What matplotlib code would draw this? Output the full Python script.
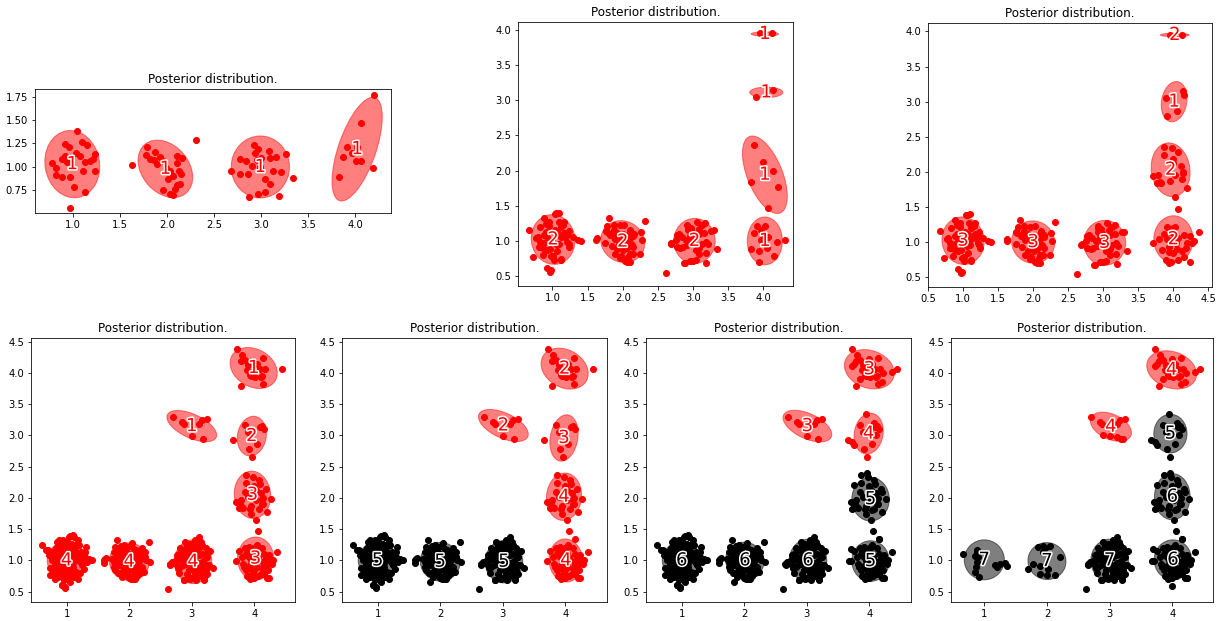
import numpy as np
import matplotlib
matplotlib.use("Agg")
import matplotlib.pyplot as plt
import matplotlib.patheffects as pe
from matplotlib.patches import Ellipse

a1 = [(0.77, 1.04), (0.82, 0.99), (0.82, 0.91), (0.88, 0.89), (0.91, 1.24), (0.95, 1.21),
      (0.88, 1.09), (0.93, 1.05), (0.97, 0.89), (1.01, 0.79), (0.97, 0.56), (1.04, 1.38),
      (1.09, 1.27), (1.15, 1.23), (1.10, 0.96), (1.12, 0.73), (1.12, 1.05), (1.18, 1.06),
      (1.23, 0.96), (1.23, 1.14), (1.21, 1.09), (1.07, 1.12), (1.03, 1.15), (0.91, 1.12)]
a2 = [(0.67, 1.16), (0.73, 0.77), (0.88, 1.32), (0.93, 0.61), (0.98, 0.58), (1.05, 1.39),
      (1.10, 1.40), (1.36, 1.02), (1.40, 1.00), (1.17, 1.27), (1.12, 0.74), (1.24, 0.92),
      (1.29, 1.06), (0.79, 1.06), (0.81, 0.92), (0.83, 1.20), (0.98, 0.78), (1.02, 0.73),
      (0.93, 0.87), (0.88, 0.97), (1.17, 1.11), (1.21, 0.99), (1.07, 0.85), (1.12, 1.20),
      (0.95, 1.27), (1.00, 1.00), (1.05, 0.95), (0.86, 0.80)]
a4 = [(0.61, 1.24), (0.70, 1.16), (0.74, 0.88), (0.78, 0.76), (0.82, 0.70), (0.92, 0.61),
      (0.85, 1.30), (0.95, 1.33), (1.12, 1.38), (1.20, 1.25), (1.30, 1.14), (1.38, 1.01),
      (1.33, 0.98), (1.22, 0.80), (1.18, 0.70), (1.08, 0.80), (0.90, 0.95), (0.95, 1.10),
      (1.00, 1.20), (1.05, 1.05), (1.10, 0.90), (1.15, 1.00), (0.85, 1.05), (0.80, 1.15),
      (1.25, 1.05), (0.92, 0.75), (1.02, 0.88), (0.76, 1.00), (0.79, 0.84), (0.87, 0.74),
      (0.96, 0.68), (1.06, 0.66), (1.15, 0.82), (1.27, 0.87), (1.31, 1.22), (1.18, 1.33),
      (1.00, 1.30), (0.89, 1.18), (0.72, 1.08), (1.06, 1.25), (0.98, 0.93), (1.13, 1.15)]
a7 = [(0.66, 1.11), (0.85, 1.07), (0.88, 0.98), (0.87, 0.90), (0.85, 0.82), (0.92, 0.74),
      (1.17, 0.93), (1.20, 0.90), (1.25, 0.95), (1.33, 0.96), (1.37, 0.91), (0.88, 1.17),
      (0.90, 1.06), (0.89, 1.12)]

b1 = [(1.62, 1.02), (1.78, 1.21), (1.77, 1.13), (1.82, 1.09), (1.87, 1.16), (1.86, 1.07),
      (1.89, 1.03), (1.92, 1.11), (1.96, 1.06), (1.99, 0.99), (2.03, 0.96), (2.01, 0.87),
      (1.96, 0.76), (2.03, 0.71), (2.06, 0.70), (2.08, 0.77), (2.10, 0.81), (2.14, 0.82),
      (2.15, 0.92), (2.10, 1.04), (2.10, 1.12), (2.16, 1.10), (2.12, 0.96), (2.31, 1.29),
      (2.06, 0.90)]
b2 = [(1.63, 1.04), (1.81, 1.32), (2.26, 1.13), (2.27, 1.01), (2.24, 0.82), (2.10, 0.70),
      (2.05, 0.73), (1.97, 0.79), (1.89, 0.81), (1.86, 1.11), (1.87, 1.23), (1.96, 1.22),
      (2.02, 1.23), (2.11, 1.16), (2.13, 0.94), (1.75, 0.97), (1.76, 1.14), (1.95, 0.95),
      (2.05, 0.91), (2.08, 1.00), (2.15, 1.07), (1.92, 0.88), (2.00, 1.10), (1.84, 0.93)]
b4 = [(1.59, 1.01), (1.60, 0.96), (2.34, 0.98), (1.75, 0.90), (1.80, 1.05), (1.85, 1.20),
      (1.90, 0.95), (1.95, 1.15), (2.00, 0.85), (2.05, 1.05), (2.10, 0.95), (2.15, 1.15),
      (2.20, 0.90), (2.25, 1.05), (2.20, 1.20), (1.82, 0.80), (2.12, 0.75), (1.92, 1.25),
      (2.07, 1.18), (1.97, 1.03), (2.02, 0.97), (2.18, 1.00), (1.72, 1.03), (1.78, 0.85),
      (1.88, 0.74), (1.99, 0.72), (2.17, 0.80), (2.22, 1.12), (2.04, 1.28), (1.82, 1.17),
      (1.93, 1.02), (2.09, 0.88), (1.85, 0.99), (2.12, 1.08)]
b5 = [(1.83, 0.65)]
b7 = [(1.69, 0.86), (1.78, 0.94), (1.89, 0.91), (1.85, 1.22), (1.94, 1.23), (2.05, 1.23),
      (1.94, 1.14), (1.89, 0.79), (2.00, 0.77), (2.13, 0.77), (2.21, 1.06), (2.02, 0.87),
      (1.97, 1.20)]

c1 = [(2.68, 0.96), (2.77, 0.92), (2.77, 1.09), (2.84, 1.06), (2.86, 0.92), (2.87, 0.68),
      (2.92, 1.23), (2.97, 1.19), (2.93, 1.15), (2.90, 1.01), (2.95, 1.07), (3.00, 1.10),
      (2.97, 0.71), (3.04, 0.73), (3.04, 0.87), (3.08, 1.17), (3.09, 1.10), (3.09, 0.82),
      (3.12, 0.96), (3.16, 1.11), (3.21, 0.95), (3.19, 0.69), (3.26, 1.14), (3.34, 0.88),
      (2.99, 1.00)]
c2 = [(2.62, 0.54), (2.69, 0.97), (2.75, 1.01), (2.88, 0.68), (2.95, 0.72), (3.00, 0.72),
      (3.17, 1.25), (3.05, 1.27), (2.93, 1.20), (3.29, 1.15), (2.80, 1.10), (3.09, 1.12),
      (3.18, 0.99), (3.18, 0.83), (2.82, 0.90), (2.91, 0.94), (3.09, 0.90), (3.13, 1.22),
      (2.98, 1.13)]
c4 = [(2.65, 0.95), (2.66, 0.92), (2.75, 0.98), (2.80, 0.80), (2.85, 1.15), (2.90, 1.30),
      (3.05, 1.33), (3.12, 1.37), (3.15, 1.30), (3.22, 1.20), (3.25, 1.05), (3.22, 0.85),
      (3.15, 0.75), (3.05, 0.80), (2.95, 0.85), (2.90, 1.05), (3.00, 0.95), (3.05, 1.05),
      (3.10, 0.95), (3.12, 1.08), (2.85, 1.00), (3.20, 0.70), (2.92, 0.78), (2.78, 0.88),
      (2.82, 1.20), (2.97, 1.27), (3.10, 1.25), (3.27, 0.93), (3.24, 0.78), (3.07, 0.68),
      (2.96, 0.98), (3.02, 1.18), (3.15, 0.88)]

d1 = [(3.83, 0.89), (3.87, 1.11), (3.91, 1.21), (3.96, 1.15), (4.01, 1.06), (4.06, 1.06),
      (4.19, 0.99), (4.02, 1.21)]
d2 = [(3.94, 0.86), (3.93, 0.70), (4.15, 0.79), (4.30, 1.01), (4.05, 0.90), (3.97, 1.01)]
d3 = [(3.71, 0.99), (4.37, 1.14), (3.99, 1.20), (3.91, 1.05), (3.90, 0.75), (3.96, 0.72),
      (4.06, 0.75), (4.24, 0.72), (4.12, 0.88), (4.24, 1.08), (4.26, 0.99), (4.15, 1.10),
      (4.03, 0.98), (3.99, 0.85), (3.93, 0.93), (4.02, 1.12), (4.18, 0.91), (3.80, 1.05)]
d4 = [(3.75, 1.15), (3.85, 1.20), (3.88, 0.75), (4.00, 0.72), (4.10, 0.78), (4.20, 0.72),
      (4.28, 0.95), (4.12, 1.20), (3.82, 0.95), (4.08, 1.00), (3.95, 1.00), (4.14, 0.97),
      (3.86, 0.85), (4.22, 0.85), (4.05, 1.25), (3.98, 0.80), (4.18, 1.05), (3.90, 1.12)]
d6 = [(3.70, 1.19), (4.15, 1.34), (3.68, 0.99), (4.23, 0.72), (3.90, 1.10), (4.05, 0.82)]
d7 = [(3.99, 0.59)]

e1 = [(4.06, 1.47), (4.20, 1.77)]
e2 = [(3.86, 2.36), (3.99, 2.12), (4.14, 2.00), (3.82, 1.84)]
e3 = [(3.98, 2.34), (4.07, 2.28), (3.87, 2.24), (4.00, 2.19), (4.11, 2.08), (4.13, 1.98),
      (4.12, 1.90), (3.71, 1.94), (3.78, 1.96), (3.76, 1.84), (3.81, 1.86), (3.95, 1.87),
      (4.02, 1.96), (4.02, 1.64)]
e4 = [(4.27, 1.99), (3.93, 1.83), (3.77, 1.93), (4.09, 2.23), (3.90, 2.02), (4.14, 1.91),
      (4.03, 2.13), (3.85, 2.10), (4.18, 2.15), (3.95, 1.75), (4.08, 1.82)]
e5 = [(4.16, 1.35)]
e6 = [(3.75, 2.20), (3.96, 2.40), (4.20, 2.10), (4.05, 1.80), (3.72, 1.82)]

f2 = [(3.90, 3.05), (4.13, 3.15)]
f3 = [(4.15, 3.10), (4.05, 2.87), (3.91, 2.79)]
f4 = [(3.66, 2.93), (4.09, 3.14), (3.97, 2.65), (3.85, 3.17)]
f6 = [(3.94, 3.35), (4.08, 3.20), (4.10, 3.00), (3.72, 2.90), (3.75, 2.85)]

g2 = [(3.95, 3.95), (4.12, 3.95)]
g4 = [(3.73, 4.38), (3.81, 4.29), (3.85, 4.21), (3.78, 4.20), (3.90, 4.13), (3.88, 4.05),
      (4.04, 4.15), (4.14, 4.24), (4.09, 4.07), (4.17, 4.07), (3.93, 3.97), (4.01, 3.94),
      (4.10, 3.94), (4.14, 3.83), (3.78, 3.79), (4.45, 4.07)]
g6 = [(4.37, 4.02), (3.75, 4.15), (3.72, 4.12), (3.95, 4.10), (4.20, 3.85), (3.85, 3.90),
      (4.00, 4.22), (4.22, 4.00)]

h4 = [(2.70, 3.30), (2.84, 3.22), (2.88, 3.19), (3.00, 2.99), (3.16, 3.25), (3.25, 3.26),
      (3.18, 2.95), (3.12, 3.19)]
h7 = [(2.90, 3.01), (3.11, 2.97), (3.22, 2.94)]

# ---- per panel: point groups, posterior ellipses (cx, cy, w, h, angle) and level labels
p1_pts = [a1, b1, c1, d1 + e1]
p1_ell = [(0.99, 1.03, 0.58, 0.72, 10), (1.98, 0.98, 0.68, 0.50, -50),
          (2.99, 1.00, 0.62, 0.66, 0), (4.02, 1.19, 1.16, 0.40, 71)]
p1_lab = [1, 1, 1, 1]

p2_pts = [a1 + a2, b1 + b2, c1 + c2, d1 + d2, e1 + e2, f2, g2]
p2_ell = [(1.01, 1.02, 0.62, 0.71, 10), (2.00, 0.99, 0.64, 0.58, -30),
          (3.02, 1.00, 0.59, 0.64, 0), (4.02, 1.00, 0.50, 0.68, 0),
          (4.02, 1.94, 0.50, 1.17, 22), (4.04, 3.11, 0.47, 0.15, 0),
          (4.02, 3.94, 0.39, 0.06, 0)]
p2_lab = [2, 2, 2, 1, 1, 1, 1]

p3_pts = [a1 + a2, b1 + b2, c1 + c2, d1 + d2 + d3, e1 + e2 + e3, f2 + f3, g2]
p3_ell = [(1.00, 1.02, 0.60, 0.68, 10), (2.00, 1.00, 0.62, 0.60, -30),
          (3.02, 0.99, 0.60, 0.64, 0), (4.00, 1.04, 0.56, 0.67, 0),
          (3.96, 2.03, 0.55, 0.77, 8), (4.01, 3.00, 0.36, 0.58, -10),
          (4.02, 3.95, 0.41, 0.05, 0)]
p3_lab = [3, 3, 3, 2, 2, 1, 2]

A4 = a1 + a2 + a4
B4 = b1 + b2 + b4
C4 = c1 + c2 + c4
D4 = d1 + d2 + d3 + d4
E4 = e1 + e2 + e3 + e4
F4 = f2 + f3 + f4
G4 = g2 + g4

p4_pts = [A4, B4, C4, D4, E4, F4, G4, h4]
p4_ell = [(1.00, 1.00, 0.62, 0.60, 0), (2.00, 0.98, 0.64, 0.60, -20),
          (3.02, 0.98, 0.60, 0.70, 0), (4.02, 1.03, 0.58, 0.69, 0),
          (3.97, 2.05, 0.58, 0.76, 5), (3.96, 2.99, 0.46, 0.64, -10),
          (3.99, 4.08, 0.80, 0.60, -30), (3.00, 3.15, 0.86, 0.38, -25)]
p4_lab = [4, 4, 4, 3, 3, 2, 1, 1]

p5_pts = [A4, B4 + b5, C4, D4, E4 + e5, F4, G4, h4]
p5_ell = [(1.00, 1.00, 0.62, 0.60, 0), (2.00, 0.98, 0.64, 0.62, -20),
          (3.02, 0.98, 0.60, 0.68, 0), (4.01, 1.00, 0.54, 0.69, 5),
          (3.98, 2.02, 0.56, 0.76, -5), (3.98, 2.96, 0.44, 0.75, -10),
          (3.99, 4.07, 0.80, 0.60, -30), (3.01, 3.16, 0.86, 0.40, -25)]
p5_lab = [5, 5, 5, 4, 4, 3, 2, 2]

p6_pts = [A4, B4 + b5, C4, D4 + d6, E4 + e5 + e6, F4 + f6, G4 + g6, h4]
p6_ell = [(1.00, 1.00, 0.62, 0.60, 0), (2.01, 1.00, 0.62, 0.58, -20),
          (3.02, 1.00, 0.60, 0.68, 0), (4.02, 0.99, 0.60, 0.65, 0),
          (4.02, 1.98, 0.60, 0.70, 0), (3.99, 3.03, 0.46, 0.66, -10),
          (4.00, 4.06, 0.82, 0.60, -20), (3.01, 3.15, 0.84, 0.40, -25)]
p6_lab = [6, 6, 6, 5, 5, 4, 3, 3]

p7_pts = [a7, b7, C4, D4 + d6 + d7, E4 + e5 + e6, F4 + f6, G4 + g6, h4 + h7]
p7_ell = [(1.00, 1.01, 0.64, 0.64, 0), (2.00, 0.99, 0.61, 0.59, -20),
          (3.00, 1.00, 0.60, 0.68, 0), (4.01, 1.01, 0.60, 0.64, 0),
          (4.00, 2.02, 0.57, 0.74, 0), (3.97, 3.03, 0.53, 0.62, 0),
          (3.99, 4.05, 0.82, 0.58, -20), (3.02, 3.14, 0.70, 0.40, -25)]
p7_lab = [7, 7, 7, 6, 6, 5, 4, 4]

# ---- layout: axes rectangles (figure fraction) and view limits
rects = [[0.0286, 0.657, 0.2911, 0.1997],
         [0.4235, 0.5395, 0.2249, 0.4251],
         [0.7588, 0.5378, 0.2322, 0.4251],
         [0.0253, 0.0306, 0.2159, 0.4251],
         [0.2796, 0.0306, 0.2167, 0.4251],
         [0.5282, 0.0306, 0.2167, 0.4251],
         [0.7776, 0.0306, 0.2142, 0.4251]]
xlims = [(0.593, 4.38), (0.51, 4.42), (0.50, 4.55), (0.43, 4.65),
         (0.429, 4.667), (0.429, 4.667), (0.469, 4.649)]
ylims = [(0.51, 1.83), (0.36, 4.11), (0.36, 4.12), (0.335, 4.56),
         (0.335, 4.56), (0.335, 4.56), (0.335, 4.56)]

panels = [(p1_pts, p1_ell, p1_lab), (p2_pts, p2_ell, p2_lab), (p3_pts, p3_ell, p3_lab),
          (p4_pts, p4_ell, p4_lab), (p5_pts, p5_ell, p5_lab), (p6_pts, p6_ell, p6_lab),
          (p7_pts, p7_ell, p7_lab)]

fig = plt.figure(figsize=(1223 / 72, 621 / 72), dpi=72)

for k, (pts, ells, labs) in enumerate(panels):
    ax = fig.add_axes(rects[k])
    for grp, (cx, cy, w, h, ang), lab in zip(pts, ells, labs):
        col = "red" if lab <= 4 else "black"
        ax.add_patch(Ellipse((cx, cy), w, h, angle=ang, color=col, alpha=0.5))
        xy = np.array(grp)
        ax.scatter(xy[:, 0], xy[:, 1], color=col)
        ax.text(cx, cy, str(lab), color=col, fontsize=18, ha="center", va="center",
                path_effects=[pe.withStroke(linewidth=3, foreground="white")])
    ax.set_xlim(*xlims[k])
    ax.set_ylim(*ylims[k])
    ax.set_title("Posterior distribution.")

fig.savefig("out.png", dpi=72)
